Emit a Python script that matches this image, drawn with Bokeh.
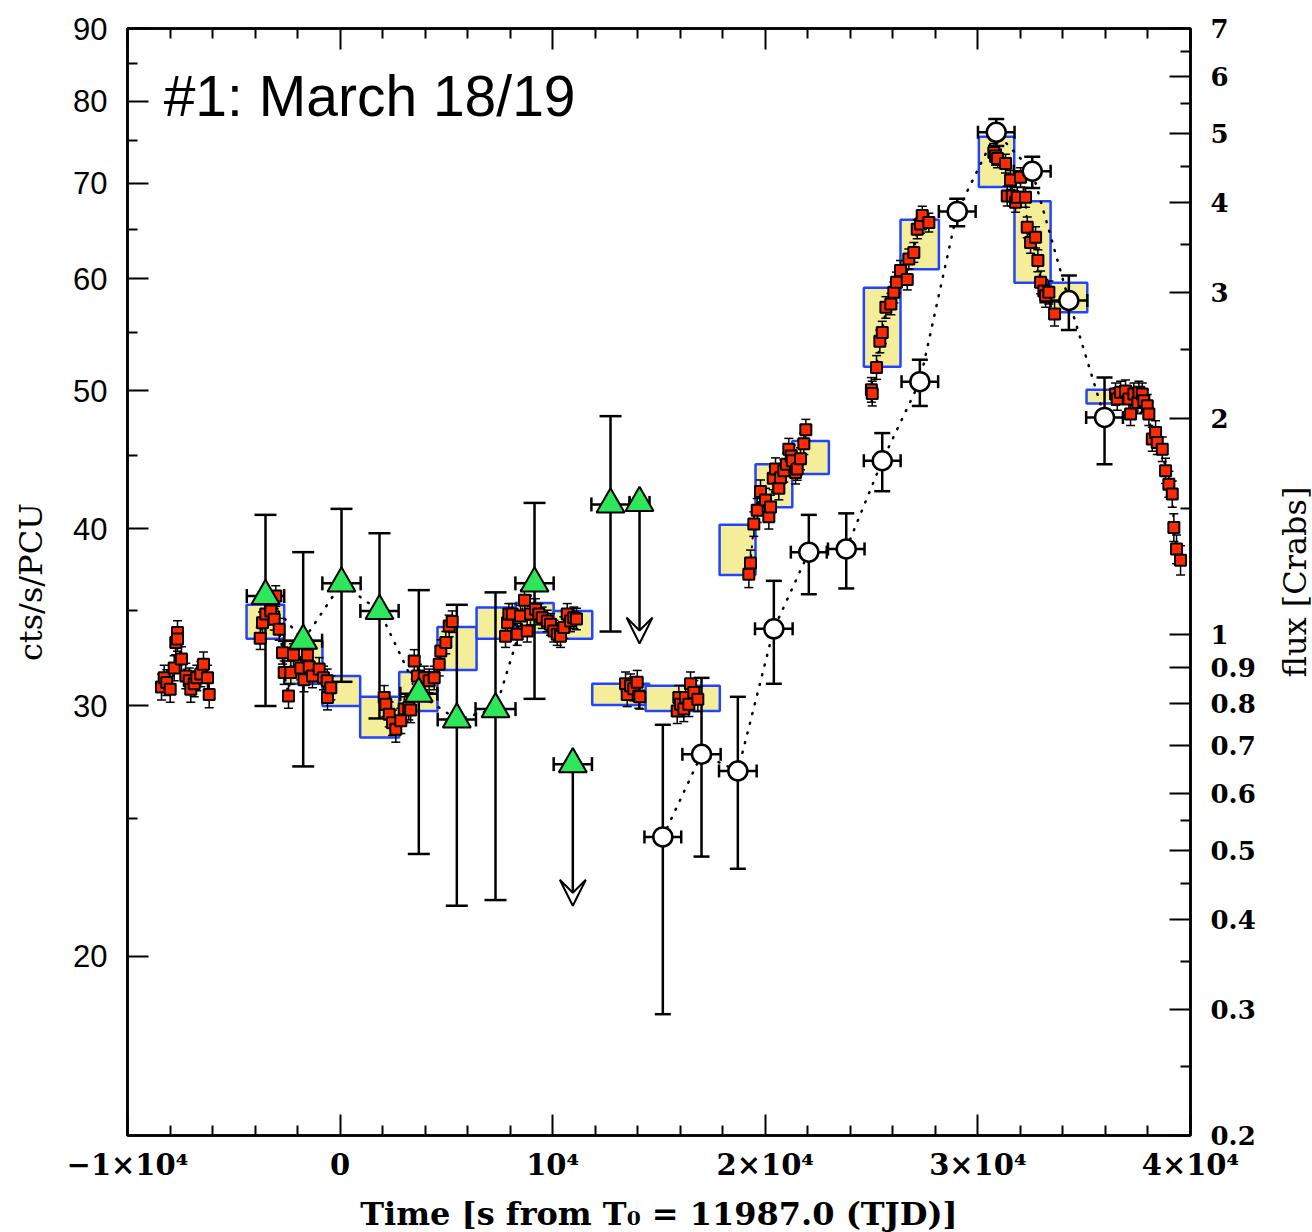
import math

from bokeh.plotting import figure
from bokeh.models import (ColumnDataSource, Whisker, TeeHead, Range1d, LogAxis,
                          LinearAxis, LogScale, FixedTicker, Arrow, VeeHead, Label)
from bokeh.embed import file_html
from bokeh.resources import INLINE

# ---------------------------------------------------------------------------
# PCA light curve (red squares), split into contiguous observing stretches
# ---------------------------------------------------------------------------
red_seg = ([1] * 18 + [2] * 23 + [3] * 19 + [4] * 22 + [5] * 7 + [6] * 9 +
           [7] * 22 + [8] * 17 + [9] * 20 + [10] * 23)
red_t = [
    # 1
    -8401, -8274, -8152, -7992, -7804, -7729, -7649, -7649, -7461, -7258,
    -7098, -7023, -6863, -6741, -6553, -6426, -6237, -6157,
    # 2
    -3758, -3650, -3495, -3274, -3260, -3100, -3025, -2865, -2709, -2630,
    -2427, -2319, -2192, -1850, -1700, -1534, -1454, -1298, -983, -781,
    -607, -593, -437,
    # 3
    2074, 2150, 2310, 2465, 2620, 2855, 3015, 3232, 3320, 3486,
    3641, 3956, 4191, 4427, 4662, 4737, 4972, 5132, 5273,
    # 4
    7780, 7875, 7936, 8096, 8331, 8486, 8674, 8801, 8956, 9192,
    9347, 9507, 9742, 9897, 10053, 10213, 10368, 10523, 10683, 10838,
    10993, 11120,
    # 5
    13425, 13505, 13660, 13816, 13976, 14051, 14098,
    # 6
    15857, 15933, 16012, 16168, 16248, 16403, 16483, 16638, 16826,
    # 7
    19225, 19305, 19460, 19620, 19775, 20011, 20166, 20246, 20373, 20481,
    20636, 20716, 20871, 20998, 21106, 21219, 21267, 21422, 21502, 21657,
    21812, 21906,
    # 8
    24990, 25030, 25232, 25388, 25501, 25672, 25907, 26046, 26173, 26361,
    26677, 26752, 26987, 27147, 27302, 27382, 27693,
    # 9
    30750, 30830, 30925, 31300, 31380, 31536, 31616, 31771, 31851, 32006,
    32241, 32321, 32477, 32712, 32821, 32948, 33103, 33183, 33338, 33606,
    # 10
    36475, 36555, 36710, 36945, 37101, 37181, 37336, 37524, 37571, 37731,
    37806, 37966, 38042, 38202, 38357, 38437, 38672, 38827, 38982, 39142,
    39217, 39344, 39532,
]
red_rate = [
    # 1
    30.94, 31.4, 31.16, 30.83, 31.9, 33.25, 33.8, 33.44, 32.37, 31.5,
    31.25, 30.83, 31.1, 31.4, 31.6, 32.1, 31.4, 30.57,
    # 2
    33.48, 34.34, 34.82, 35.19, 35.0, 34.53, 35.86, 33.98, 32.71, 31.67,
    30.49, 31.67, 32.59, 31.9, 31.3, 32.59, 31.97, 31.5, 31.85, 31.4,
    31.25, 30.41, 30.9,
    # 3
    30.41, 30.09, 29.6, 29.2, 28.89, 29.29, 29.85, 29.93, 29.8, 32.27,
    31.5, 31.4, 31.25, 31.4, 32.1, 32.8, 33.25, 34.16, 34.4,
    # 4
    33.59, 34.34, 34.82, 34.82, 33.7, 34.72, 35.61, 33.88, 34.82, 35.1,
    34.82, 34.62, 34.44, 34.25, 33.88, 33.7, 33.59, 34.07, 34.82, 34.44,
    34.62, 34.55,
    # 5
    31.1, 30.57, 31.0, 30.85, 31.18, 30.49, 30.45,
    # 6
    29.76, 30.41, 30.09, 29.85, 30.41, 30.09, 31.1, 30.66, 30.33,
    # 7
    37.15, 37.83, 40.3, 41.2, 42.48, 41.9, 40.77, 41.43, 43.4, 44.06,
    42.71, 43.44, 43.93, 44.4, 45.5, 45.0, 44.65, 43.8, 44.06, 44.8,
    45.9, 46.95,
    # 8
    50.1, 49.8, 51.95, 54.19, 54.98, 57.26, 57.58, 58.67, 59.63, 60.78,
    59.9, 61.94, 62.6, 65.0, 65.56, 66.45, 65.7,
    # 9
    73.6, 73.2, 72.9, 72.3, 68.6, 70.4, 68.6, 67.9, 68.45, 70.7,
    68.45, 65.2, 63.6, 64.15, 61.77, 59.63, 58.8, 58.36, 58.67, 56.65,
    # 10
    49.76, 49.36, 49.89, 50.0, 49.36, 48.17, 49.76, 49.08, 49.89, 49.76,
    49.21, 48.82, 48.17, 46.25, 46.75, 46.0, 45.5, 43.93, 42.99, 42.3,
    40.07, 38.69, 38.0,
]
# 1-sigma error of a single point in each stretch
seg_err = [0.65, 0.6, 0.6, 0.6, 0.6, 0.6, 0.8, 1.0, 1.1, 0.9]

# ---------------------------------------------------------------------------
# Binned PCA rates (yellow boxes)
# ---------------------------------------------------------------------------
box_t0 = [-4400, -2630, -830, 945, 2780, 4580, 6420, 8250, 10045, 11860,
          14370, 17850, 19540, 21270, 24635, 26360, 30045, 31720, 33420, 35110]
box_t1 = [-2630, -830, 945, 2780, 4580, 6420, 8250, 10045, 11860, 14540,
          17860, 19540, 21270, 22990, 26360, 28165, 31710, 33420, 35145, 36850]
box_lo = [33.45, 31.1, 30.0, 28.5, 29.76, 31.8, 33.45, 33.8, 33.46, 30.05,
          29.76, 37.1, 41.4, 43.7, 52.0, 60.9, 69.6, 59.6, 56.8, 49.0]
box_hi = [35.35, 33.35, 31.5, 30.45, 31.7, 34.1, 35.2, 35.46, 35.0, 31.1,
          31.0, 40.25, 44.4, 46.1, 59.1, 66.0, 75.5, 68.0, 59.6, 50.1]

# ---------------------------------------------------------------------------
# Green triangles (None = upper limit, drawn as arrow down to tri_limit)
# ---------------------------------------------------------------------------
tri_t = [-3509, -1736, 66, 1853, 3702, 5490, 7310, 9145, 10946, 12720, 14084]
tri_rate = [35.86, 33.35, 36.6, 35.0, 30.6, 29.35, 29.85, 36.6, 27.3, 41.6, 41.7]
tri_lo = [30.0, 27.2, 31.2, 29.4, 23.6, 21.7, 21.9, 30.35, None, 33.85, None]
tri_hi = [40.9, 38.5, 41.3, 39.7, 36.2, 35.35, 36.07, 41.7, None, 48.0, None]
tri_dt = [880, 890, 900, 900, 870, 900, 940, 900, 900, 900, 470]
tri_limit = [None, None, None, None, None, None, None, None, 21.7, None, 33.2]
tri_joined = 8   # the first eight are joined by a dotted line

# ---------------------------------------------------------------------------
# Open circles
# ---------------------------------------------------------------------------
circ_t = [15180, 17000, 18708, 20401, 22047, 23807, 25500, 27269, 29028,
          30863, 32556, 34278, 35957]
circ_rate = [24.26, 27.74, 27.0, 34.0, 38.5, 38.7, 44.65, 50.76, 66.9,
             76.06, 71.4, 57.9, 47.9]
circ_lo = [18.2, 23.5, 23.04, 31.1, 35.96, 36.3, 42.5, 48.8, 65.3, 74.4,
           69.5, 55.2, 44.4]
circ_hi = [29.1, 31.4, 30.45, 36.75, 40.9, 41.0, 46.7, 52.6, 68.3, 77.7,
           73.1, 60.3, 51.1]
circ_dt = [865, 900, 885, 885, 845, 860, 865, 860, 865, 860, 865, 865, 865]

# axis ticks
x_major = [-10000, 0, 10000, 20000, 30000, 40000]
x_minor = [-8000, -6000, -4000, -2000, 2000, 4000, 6000, 8000, 12000, 14000,
           16000, 18000, 22000, 24000, 26000, 28000, 32000, 34000, 36000, 38000]
x_labels = ["\u22121\u00d710\u2074", "0", "10\u2074", "2\u00d710\u2074",
            "3\u00d710\u2074", "4\u00d710\u2074"]
y_major = [20, 30, 40, 50, 60, 70, 80, 90]
y_minor = [25, 35, 45, 55, 65, 75, 85]
flux_major = [0.2, 0.3, 0.4, 0.5, 0.6, 0.7, 0.8, 0.9, 1, 2, 3, 4, 5, 6, 7]
flux_labels = ["0.2", "0.3", "0.4", "0.5", "0.6", "0.7", "0.8", "0.9",
               "1", "2", "3", "4", "5", "6", "7"]
flux_minor = [0.25, 0.35, 0.45, 0.55, 1.5, 2.5, 3.5, 4.5, 5.5, 6.5]

X0, X1 = -10000, 40000
Y0, Y1 = 14.95, 90
FW, FH = 1063, 1107

# ---------------------------------------------------------------------------
p = figure(x_range=Range1d(X0, X1), y_range=Range1d(Y0, Y1),
           y_axis_type="log", frame_width=FW, frame_height=FH,
           min_border_left=127, min_border_right=122, min_border_top=28,
           min_border_bottom=97, output_backend="svg", toolbar_location=None)
p.xgrid.visible = False
p.ygrid.visible = False
p.outline_line_color = "black"
p.outline_line_width = 2.5
p.background_fill_color = "white"
p.border_fill_color = "white"

p.extra_y_ranges = {"flux": Range1d(0.2, 7)}
p.extra_y_scales = {"flux": LogScale()}
flux_axis = LogAxis(y_range_name="flux",
                    ticker=FixedTicker(ticks=flux_major, minor_ticks=flux_minor))
flux_axis.major_label_overrides = {v: s for v, s in zip(flux_major, flux_labels)}
p.add_layout(flux_axis, "right")

top_axis = LinearAxis(ticker=FixedTicker(ticks=x_major, minor_ticks=x_minor))
top_axis.major_label_overrides = {v: "" for v in x_major}
top_axis.major_label_standoff = 0
p.add_layout(top_axis, "above")

xax = p.below[0]
yax = p.left[0]
xax.ticker = FixedTicker(ticks=x_major, minor_ticks=x_minor)
xax.major_label_overrides = {v: s for v, s in zip(x_major, x_labels)}
yax.ticker = FixedTicker(ticks=y_major, minor_ticks=y_minor)
yax.major_label_overrides = {v: str(v) for v in y_major}

for ax in (xax, yax, top_axis, flux_axis):
    ax.axis_line_width = 2.5
    ax.major_tick_in = 21
    ax.major_tick_out = 0
    ax.minor_tick_in = 10
    ax.minor_tick_out = 0
    ax.major_tick_line_width = 2
    ax.minor_tick_line_width = 2
    ax.axis_label_text_font = "DejaVu Serif"
    ax.axis_label_text_font_style = "normal"
    ax.axis_label_text_font_size = "32px"
    ax.axis_label_text_color = "black"
    ax.major_label_text_color = "black"

xax.axis_label = "Time [s from T\u2080 = 11987.0 (TJD)]"
xax.axis_label_text_font_style = "bold"
xax.axis_label_standoff = 10
xax.major_label_text_font = "DejaVu Serif"
xax.major_label_text_font_style = "bold"
xax.major_label_text_font_size = "29px"
xax.major_label_standoff = 12

yax.axis_label = "cts/s/PCU"
yax.axis_label_standoff = 20
yax.major_label_text_font = "Liberation Sans"
yax.major_label_text_font_size = "31px"
yax.major_label_standoff = 20

flux_axis.major_label_text_font = "DejaVu Serif"
flux_axis.major_label_text_font_style = "bold"
flux_axis.major_label_text_font_size = "26px"
flux_axis.major_label_standoff = 20

# right-hand axis title, reading bottom to top, centred on the frame;
# it lives in the right side panel so it is not clipped to the frame
flux_title_x = X1 + 104 * (X1 - X0) / FW
flux_title_y = math.sqrt(Y0 * Y1)
p.add_layout(Label(x=flux_title_x, y=flux_title_y, text="flux [Crabs]",
                   angle=math.pi / 2, text_align="center",
                   text_baseline="middle", text_font="DejaVu Serif",
                   text_font_size="32px", text_color="black"), "right")

# binned rates
p.quad(left=box_t0, right=box_t1, bottom=box_lo, top=box_hi,
       fill_color="#f4ee9a", line_color="#2244ff", line_width=2.5,
       level="image")

# dotted connectors
red_xs, red_ys = [], []
for k in sorted(set(red_seg)):
    red_xs.append([t for t, s in zip(red_t, red_seg) if s == k])
    red_ys.append([r for r, s in zip(red_rate, red_seg) if s == k])
p.multi_line(red_xs, red_ys, line_color="black", line_width=2,
             line_dash="1 8", line_cap="round")
p.line(tri_t[:tri_joined], tri_rate[:tri_joined], line_color="black",
       line_width=2.5, line_dash="1 9", line_cap="round")
p.line(circ_t, circ_rate, line_color="black", line_width=2.5,
       line_dash="1 9", line_cap="round")

# red points: errors
red_err = [seg_err[s - 1] for s in red_seg]
red_src = ColumnDataSource(dict(
    t=red_t, rate=red_rate,
    lo=[r - e for r, e in zip(red_rate, red_err)],
    hi=[r + e for r, e in zip(red_rate, red_err)]))
p.add_layout(Whisker(source=red_src, base="t", lower="lo", upper="hi",
                     dimension="height", line_width=1.5,
                     upper_head=TeeHead(size=9, line_width=1.5),
                     lower_head=TeeHead(size=9, line_width=1.5)))


def bars(t, rate, lo, hi, dt, cap_v, cap_h):
    idx = [i for i in range(len(t)) if lo[i] is not None]
    vsrc = ColumnDataSource(dict(t=[t[i] for i in idx],
                                 lo=[lo[i] for i in idx],
                                 hi=[hi[i] for i in idx]))
    p.add_layout(Whisker(source=vsrc, base="t", lower="lo", upper="hi",
                         dimension="height", line_width=2.5,
                         upper_head=TeeHead(size=cap_v, line_width=2.5),
                         lower_head=TeeHead(size=cap_v, line_width=2.5)))
    hsrc = ColumnDataSource(dict(rate=rate,
                                 t0=[a - d for a, d in zip(t, dt)],
                                 t1=[a + d for a, d in zip(t, dt)]))
    p.add_layout(Whisker(source=hsrc, base="rate", lower="t0", upper="t1",
                         dimension="width", line_width=2.5,
                         upper_head=TeeHead(size=cap_h, line_width=2.5),
                         lower_head=TeeHead(size=cap_h, line_width=2.5)))


bars(tri_t, tri_rate, tri_lo, tri_hi, tri_dt, 22, 14)
bars(circ_t, circ_rate, circ_lo, circ_hi, circ_dt, 16, 13)

# upper limits
lim_idx = [i for i in range(len(tri_t)) if tri_limit[i] is not None]
lim_src = ColumnDataSource(dict(t=[tri_t[i] for i in lim_idx],
                                y0=[tri_rate[i] for i in lim_idx],
                                y1=[tri_limit[i] for i in lim_idx]))
p.add_layout(Arrow(source=lim_src, x_start="t", y_start="y0", x_end="t",
                   y_end="y1", line_width=2.5, level="underlay",
                   end=VeeHead(size=26, fill_color="white", line_width=2)))

# markers
p.scatter(red_t, red_rate, marker="square", size=11, fill_color="#ff2a00",
          line_color="black", line_width=2)
p.scatter(tri_t, tri_rate, marker="triangle", size=28, fill_color="#2ee65a",
          line_color="black", line_width=2)
p.scatter(circ_t, circ_rate, marker="circle", size=19, fill_color="white",
          line_color="black", line_width=2.5)

p.add_layout(Label(x=-8300, y=80.7, text="#1: March 18/19",
                   text_font="Liberation Sans", text_font_size="57px",
                   text_baseline="alphabetic", text_align="left",
                   text_color="black"))

open("out.html", "w").write(file_html(p, INLINE))
